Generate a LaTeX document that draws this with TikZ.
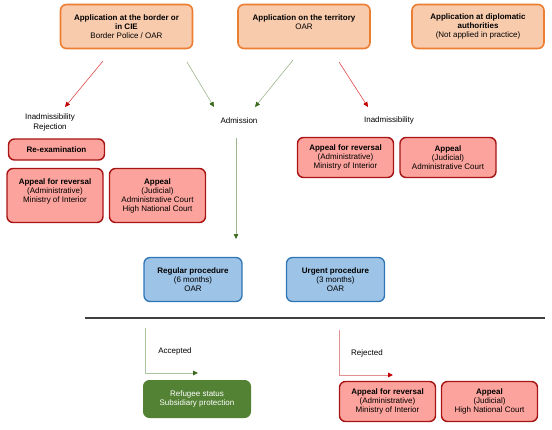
\documentclass[tikz,border=0pt]{standalone}
\usepackage{fontspec}
\setmainfont{Liberation Sans}
\usetikzlibrary{arrows.meta}
\definecolor{orfill}{HTML}{F8CBAD}
\definecolor{ordraw}{HTML}{ED7D31}
\definecolor{rdfill}{HTML}{FBA39C}
\definecolor{rddraw}{HTML}{A81515}
\definecolor{blfill}{HTML}{9DC3E6}
\definecolor{bldraw}{HTML}{2E75B6}
\definecolor{grfill}{HTML}{548235}
\definecolor{lnred}{HTML}{E04A4A}
\definecolor{hdred}{HTML}{C00000}
\definecolor{lngreen}{HTML}{9DB58C}
\definecolor{hdgreen}{HTML}{3B6A1C}
\definecolor{lnred2}{HTML}{E59090}
\definecolor{lngreen2}{HTML}{ABC59C}
\begin{document}
\begin{tikzpicture}[x=1pt,y=-1pt,
  box/.style={rounded corners=6pt, align=center, inner sep=1pt, font=\fontsize{8}{9}\selectfont},
  orbox/.style={box, fill=orfill, draw=ordraw, line width=1.6pt, minimum width=132pt, minimum height=44pt},
  rdbox/.style={box, fill=rdfill, draw=rddraw, line width=1.4pt, minimum width=96pt},
  blbox/.style={box, fill=blfill, draw=bldraw, line width=1.3pt, minimum width=98pt, minimum height=44pt},
  grbox/.style={box, fill=grfill, draw=grfill, line width=1pt, text=white, minimum width=107pt, minimum height=37pt},
  lbl/.style={align=center, inner sep=0pt, font=\fontsize{8}{10}\selectfont},
  redarrow/.style={draw=lnred, line width=0.6pt, -{Triangle[length=5pt,width=4.5pt,color=hdred]}},
  greenarrow/.style={draw=lngreen, line width=0.6pt, -{Triangle[length=5pt,width=4.5pt,color=hdgreen]}},
  accline/.style={draw=lngreen2, line width=0.9pt, -{Triangle[length=5pt,width=4.5pt,color=hdgreen]}},
  rejline/.style={draw=lnred2, line width=0.9pt, -{Triangle[length=5pt,width=4.5pt,color=hdred]}}
]
\useasboundingbox (0,0) rectangle (552,429);

% top boxes
\node[orbox] (b1) at (126.5,26.5) {\textbf{Application at the border or}\\\textbf{in CIE}\\Border Police / OAR};
\node[orbox] (b2) at (304,26.5) {\textbf{Application on the territory}\\OAR\\\mbox{}};
\node[orbox] (b3) at (478,26.5) {\textbf{Application at diplomatic}\\\textbf{authorities}\\(Not applied in practice)};

% labels
\node[lbl] (inadl) at (50,122) {Inadmissibility\\Rejection};
\node[lbl] (adm) at (239,121) {Admission};
\node[lbl] (inadr) at (389,120) {Inadmissibility};

% arrow coordinates
\coordinate (a1s) at (103,61);  \coordinate (a1e) at (65,107);
\coordinate (a2s) at (187,62);  \coordinate (a2e) at (214,107);
\coordinate (a3s) at (293,60);  \coordinate (a3e) at (255,107);
\coordinate (a4s) at (339,62);  \coordinate (a4e) at (368,107);
\draw[redarrow] (a1s) -- (a1e);
\draw[greenarrow] (a2s) -- (a2e);
\draw[greenarrow] (a3s) -- (a3e);
\draw[redarrow] (a4s) -- (a4e);

% left red boxes
\node[rdbox, minimum height=21pt] (reex) at (56.5,149.5) {\textbf{Re-examination}};
\node[rdbox, minimum height=54pt] (apl) at (55,195.5) {\textbf{Appeal for reversal}\\(Administrative)\\Ministry of Interior\\\mbox{}};
\node[rdbox, minimum height=54pt] (jul) at (157.5,195.5) {\textbf{Appeal}\\(Judicial)\\Administrative Court\\High National Court};

% right red boxes
\node[rdbox, minimum height=40pt] (apr) at (345.5,157.5) {\textbf{Appeal for reversal}\\(Administrative)\\Ministry of Interior};
\node[rdbox, minimum height=40pt] (jur) at (448,157.5) {\textbf{Appeal}\\(Judicial)\\Administrative Court};

% admission to procedures
\coordinate (v1s) at (236,138);
\coordinate (v1e) at (236,239);
\draw[greenarrow] (v1s) -- (v1e);

% blue boxes
\node[blbox] (reg) at (193,279.5) {\textbf{Regular procedure}\\(6 months)\\OAR};
\node[blbox] (urg) at (335.5,279.5) {\textbf{Urgent procedure}\\(3 months)\\OAR};

% divider
\coordinate (dl) at (85,318);
\coordinate (dr) at (545,318);
\draw[draw=black!75, line width=1.3pt] (dl) -- (dr);

% accepted
\coordinate (accs) at (145,328);
\coordinate (acce) at (198,373);
\node[lbl] (acc) at (175,351) {Accepted};
\draw[accline] (accs) |- (acce);
\node[grbox] (ref) at (197,399) {Refugee status\\Subsidiary protection};

% rejected
\coordinate (rejs) at (339,330);
\coordinate (reje) at (393,375);
\node[lbl] (rej) at (367,353) {Rejected};
\draw[rejline] (rejs) |- (reje);
\node[rdbox, minimum height=40pt] (apb) at (387.5,401.5) {\textbf{Appeal for reversal}\\(Administrative)\\Ministry of Interior};
\node[rdbox, minimum height=40pt] (jub) at (489.5,401.5) {\textbf{Appeal}\\(Judicial)\\High National Court};
\end{tikzpicture}
\end{document}
